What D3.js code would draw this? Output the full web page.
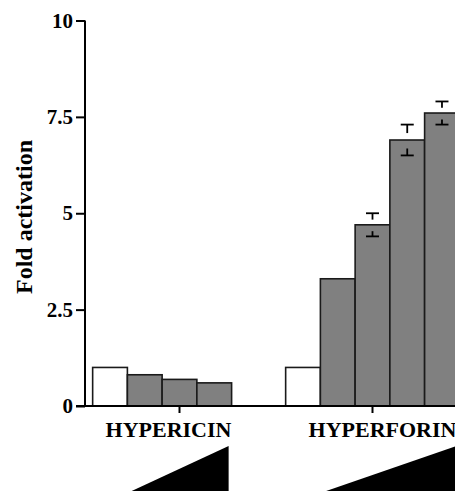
<!DOCTYPE html>
<html>
<head>
<meta charset="utf-8">
<script src="https://cdn.jsdelivr.net/npm/d3@7"></script>
<style>
  body { margin: 0; background: #fff; }
  text { font-family: "Liberation Serif", "Times New Roman", serif; font-weight: bold; fill: #000; }
</style>
</head>
<body>
<div id="viz"></div>
<script>
var width = 455, height = 491;

// data
var groups = ["HYPERICIN", "HYPERFORIN"];
var hypericinValues = [1.0, 0.81, 0.69, 0.60];          // 5th dose slot left empty
var hyperforinValues = [1.0, 3.3, 4.7, 6.9, 7.6];
var hyperforinErrors = [0, 0, 0.3, 0.4, 0.3];
var yTicks = [0, 2.5, 5, 7.5, 10];
var yTickLabels = ["0", "2.5", "5", "7.5", "10"];
var slots = [0, 1, 2, 3, 4];

var bars = [];
hypericinValues.forEach(function(v, i) { bars.push({group: groups[0], slot: i, value: v, err: 0}); });
hyperforinValues.forEach(function(v, i) { bars.push({group: groups[1], slot: i, value: v, err: hyperforinErrors[i]}); });

var svg = d3.select("#viz").append("svg")
  .attr("width", width).attr("height", height);

var y = d3.scaleLinear().domain([0, 10]).range([406, 20.5]);
var x0 = d3.scaleBand().domain(groups).range([83, 469]).paddingInner(0.1).paddingOuter(0.05);
var x1 = d3.scaleBand().domain(slots).range([0, x0.bandwidth()]);

// bars
svg.selectAll("rect.bar")
  .data(bars)
  .enter().append("rect")
  .attr("class", "bar")
  .attr("x", function(d) { return x0(d.group) + x1(d.slot); })
  .attr("y", function(d) { return y(d.value); })
  .attr("width", x1.bandwidth())
  .attr("height", function(d) { return y(0) - y(d.value); })
  .attr("fill", function(d) { return d.slot == 0 ? "#fff" : "#808080"; })
  .attr("stroke", "#1a1a1a")
  .attr("stroke-width", 1.6);

// error bars: cap + short stem on each side of the bar top
var errs = bars.filter(function(d) { return d.err > 0; });
var cap = 6.5;
errs.forEach(function(d) {
  var cx = x0(d.group) + x1(d.slot) + x1.bandwidth() / 2;
  var top = y(d.value + d.err), bot = y(d.value - d.err), mid = y(d.value);
  var g = svg.append("g").attr("stroke", "#000").attr("stroke-width", 1.8);
  g.append("line").attr("x1", cx - cap).attr("x2", cx + cap).attr("y1", top).attr("y2", top);
  g.append("line").attr("x1", cx).attr("x2", cx).attr("y1", top).attr("y2", top + (mid - top) * 0.55);
  g.append("line").attr("x1", cx - cap).attr("x2", cx + cap).attr("y1", bot).attr("y2", bot);
  g.append("line").attr("x1", cx).attr("x2", cx).attr("y1", bot).attr("y2", bot - (bot - mid) * 0.45);
});

// y axis
var yAxis = d3.axisLeft(y).tickValues(yTicks)
  .tickFormat(function(d, i) { return yTickLabels[i]; })
  .tickSize(9).tickPadding(3);
var ya = svg.append("g").attr("transform", "translate(85,0)").call(yAxis);
ya.select(".domain").attr("stroke-width", 2).attr("d", "M0," + y(10) + "V" + y(0));
ya.selectAll(".tick line").attr("stroke-width", 2);
ya.selectAll("text").style("font-size", "21px").attr("font-family", null);

// x axis
var xAxis = d3.axisBottom(x0).tickSize(7).tickFormat("");
var xa = svg.append("g").attr("transform", "translate(0," + y(0) + ")").call(xAxis);
xa.select(".domain").attr("stroke-width", 2).attr("d", "M76,0H" + width);
xa.selectAll(".tick line").attr("stroke-width", 2);

// group labels
var labelShift = {"HYPERICIN": -11, "HYPERFORIN": 10};
svg.selectAll("text.glabel")
  .data(groups)
  .enter().append("text")
  .attr("class", "glabel")
  .attr("x", function(d) { return x0(d) + x0.bandwidth() / 2 + labelShift[d]; })
  .attr("y", 437)
  .attr("text-anchor", "middle")
  .style("font-size", "22px")
  .text(function(d) { return d; });

// dose triangles under the treated bars
groups.forEach(function(g, gi) {
  var last = gi == 0 ? hypericinValues.length - 1 : hyperforinValues.length - 1;
  var left = x0(g) + x1(1), right = x0(g) + x1(last) + x1.bandwidth() - 3;
  svg.append("path")
    .attr("d", "M" + left + ",493L" + right + ",446L" + right + ",493Z")
    .attr("fill", "#000");
});

// y title
svg.append("text")
  .attr("transform", "translate(32,217) rotate(-90)")
  .attr("text-anchor", "middle")
  .style("font-size", "24px")
  .text("Fold activation");
</script>
</body>
</html>
